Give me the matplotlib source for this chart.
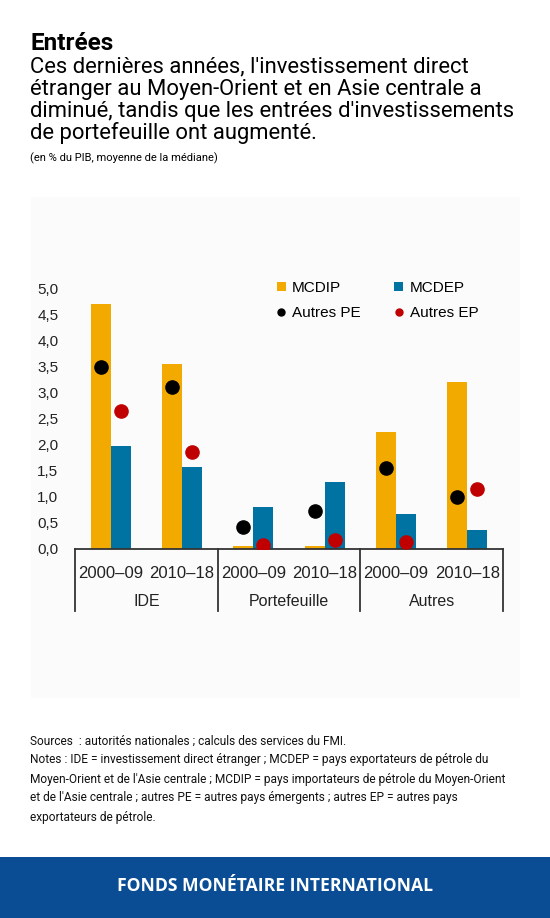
import matplotlib
matplotlib.use("Agg")
import matplotlib.pyplot as plt
from matplotlib.patches import Rectangle, Patch
from matplotlib.lines import Line2D
from matplotlib.ticker import FuncFormatter

# ---- data ----
groups = ["IDE", "Portefeuille", "Autres"]
periods = ["2000–09", "2010–18", "2000–09", "2010–18", "2000–09", "2010–18"]
mcdip = [4.70, 3.55, 0.05, 0.05, 2.24, 3.19]
mcdep = [1.97, 1.58, 0.81, 1.29, 0.67, 0.37]
autres_pe = [3.49, 3.10, 0.42, 0.73, 1.55, 0.99]
autres_ep = [2.65, 1.85, 0.08, 0.17, 0.13, 1.14]
yticks = [0.0, 0.5, 1.0, 1.5, 2.0, 2.5, 3.0, 3.5, 4.0, 4.5, 5.0]

ORANGE = "#F2A900"
BLUE = "#0073A3"
RED = "#C00000"

W, H = 550, 918
fig = plt.figure(figsize=(W / 100, H / 100), dpi=100)
fig.patch.set_facecolor("white")

def fx(px):
    return px / W

def fy(py):
    return 1 - py / H

# chart panel background
fig.patches.append(Rectangle((fx(31), fy(698)), fx(520) - fx(31), fy(197) - fy(698),
                             transform=fig.transFigure, facecolor="#FBFBFB",
                             edgecolor="none", zorder=-10))
# footer band
fig.patches.append(Rectangle((0, 0), 1, fy(857), transform=fig.transFigure,
                             facecolor="#0A4D94", edgecolor="none", zorder=-10))

# header texts
fig.text(fx(30), fy(43), "Entrées", fontsize=17.5, fontweight="bold",
         family="Roboto", va="center", ha="left", color="black")
sub = ["Ces dernières années, l'investissement direct",
       "étranger au Moyen-Orient et en Asie centrale a",
       "diminué, tandis que les entrées d'investissements",
       "de portefeuille ont augmenté."]
for i, line in enumerate(sub):
    fig.text(fx(30), fy(67 + 22 * i), line, fontsize=15.8, family="Roboto",
             va="center", ha="left", color="black")
fig.text(fx(30), fy(158), "(en % du PIB, moyenne de la médiane)", fontsize=8.0,
         family="Roboto", va="center", ha="left", color="black")

notes = ["Sources  : autorités nationales ; calculs des services du FMI.",
         "Notes : IDE = investissement direct étranger ; MCDEP = pays exportateurs de pétrole du",
         "Moyen-Orient et de l'Asie centrale ; MCDIP = pays importateurs de pétrole du Moyen-Orient",
         "et de l'Asie centrale ; autres PE = autres pays émergents ; autres EP = autres pays",
         "exportateurs de pétrole."]
for i, line in enumerate(notes):
    fig.text(fx(30), fy(741 + 19 * i), line, fontsize=8.6, family="Roboto",
             va="center", ha="left", color="#111111")

fig.text(0.5, fy(886), "FONDS MONÉTAIRE INTERNATIONAL", fontsize=12.6,
         fontweight="bold", family="Open Sans", color="white",
         ha="center", va="center")

# ---- axes ----
ax = fig.add_axes([fx(75), fy(549), fx(503) - fx(75), fy(270) - fy(549)])
ax.set_facecolor("none")
x = list(range(len(periods)))
bw = 0.28
ax.bar([i - bw / 2 for i in x], mcdip, width=bw, color=ORANGE, zorder=2)
ax.bar([i + bw / 2 for i in x], mcdep, width=bw, color=BLUE, zorder=2)
ax.plot([i - bw / 2 for i in x], autres_pe, "o", color="black", ms=9.5,
        linestyle="none", zorder=3)
ax.plot([i + bw / 2 for i in x], autres_ep, "o", color=RED, ms=9.5,
        linestyle="none", zorder=3)

ax.set_xlim(-0.5, 5.5)
ax.set_ylim(0, 5.345)
ax.set_yticks(yticks)
ax.yaxis.set_major_formatter(FuncFormatter(lambda v, p: f"{v:.1f}".replace(".", ",")))
ax.tick_params(axis="y", length=0, pad=12, labelsize=11, labelcolor="#222222")
for lab in ax.get_yticklabels():
    lab.set_family("Liberation Sans")
ax.set_xticks(x)
ax.set_xticklabels(periods, family="Liberation Sans", fontsize=12, color="#222222")
ax.tick_params(axis="x", length=0, pad=12)

for s in ["top", "right", "left"]:
    ax.spines[s].set_visible(False)
ax.spines["bottom"].set_color("#333333")
ax.spines["bottom"].set_linewidth(1.3)

# group dividers and labels
trans = ax.get_xaxis_transform()
for xv in [-0.5, 1.5, 3.5, 5.5]:
    ax.plot([xv, xv], [0, -62 / 279], color="#333333", lw=1.3, transform=trans,
            clip_on=False)
for gi, g in enumerate(groups):
    ax.text(2 * gi + 0.5, -52 / 279, g, transform=trans, ha="center", va="center",
            family="Liberation Sans", fontsize=11.5, color="#222222")

handles = [Patch(facecolor=ORANGE, edgecolor="none"),
           Line2D([], [], marker="o", color="black", linestyle="none", ms=5),
           Patch(facecolor=BLUE, edgecolor="none"),
           Line2D([], [], marker="o", color=RED, linestyle="none", ms=5)]
labels = ["MCDIP", "Autres PE", "MCDEP", "Autres EP"]
leg = fig.legend(handles, labels, ncol=2, loc="upper left",
                 bbox_to_anchor=(fx(263), fy(267)), frameon=False,
                 prop={"family": "Liberation Sans", "size": 11},
                 handlelength=0.6, handleheight=0.6, handletextpad=0.4,
                 columnspacing=2.2, labelspacing=0.75)

fig.savefig("out.png", dpi=100)
